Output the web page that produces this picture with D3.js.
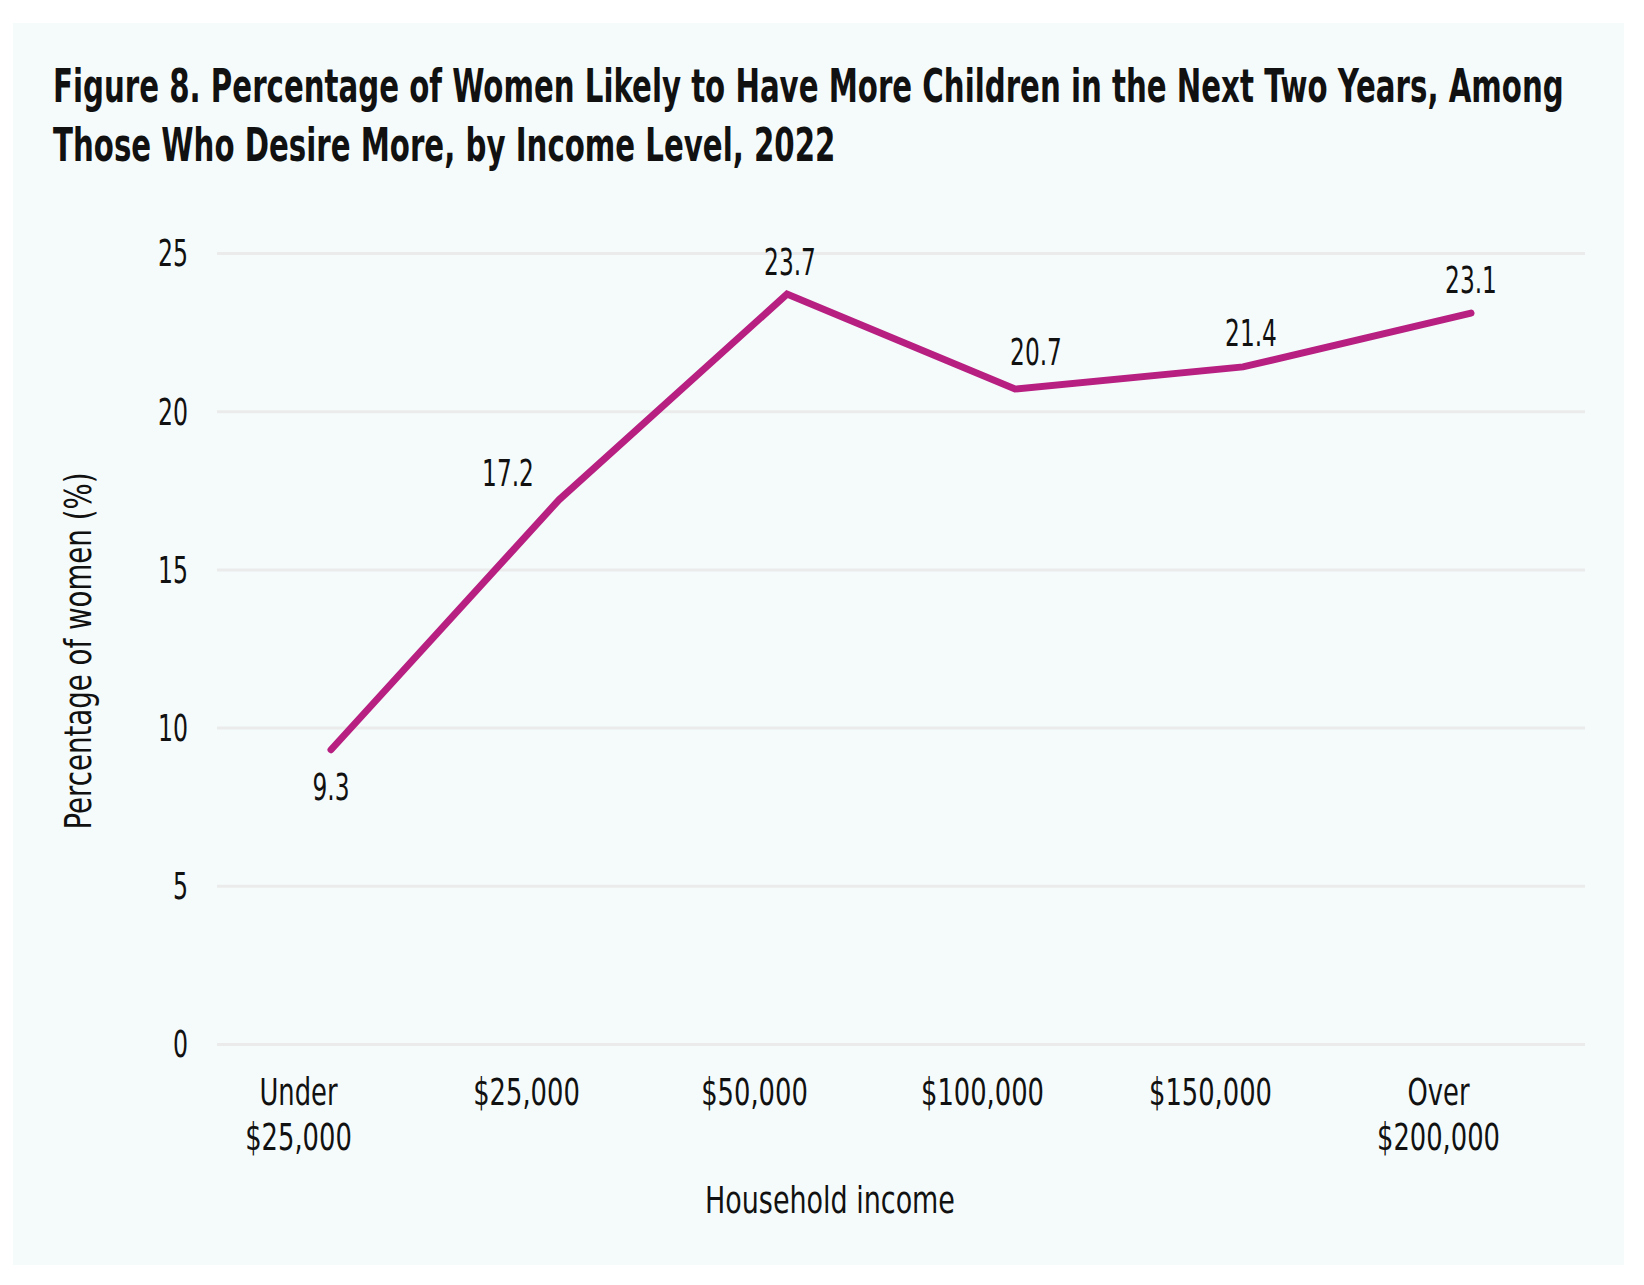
<!DOCTYPE html>
<html>
<head>
<meta charset="utf-8">
<script src="https://cdn.jsdelivr.net/npm/d3@7"></script>
<style>
  html, body { margin: 0; padding: 0; background: #ffffff; }
  svg { display: block; }
  text { font-family: "Liberation Sans Narrow", "DejaVu Sans Condensed", "Roboto Condensed", sans-serif; fill: #111111; }
</style>
</head>
<body>
<svg id="chart" width="1644" height="1285"></svg>
<script>
// ---- data ----
const categories = ["Under\n$25,000", "$25,000", "$50,000", "$100,000", "$150,000", "Over\n$200,000"];
const values = [9.3, 17.2, 23.7, 20.7, 21.4, 23.1];
const yTicks = [0, 5, 10, 15, 20, 25];
const titleLines = [
  "Figure 8. Percentage of Women Likely to Have More Children in the Next Two Years, Among",
  "Those Who Desire More, by Income Level, 2022"
];
const yAxisTitle = "Percentage of women (%)";
const xAxisTitle = "Household income";

// ---- label placement (styling, px offsets of baseline from point) ----
const labelOffsets = [[0, 50], [-51, -14], [3, -19], [21, -24], [8, -21], [0, -20]];

(function () {
const svg = d3.select("#chart");
const W = 1644, H = 1285;
svg.append("rect").attr("width", W).attr("height", H).attr("fill", "#ffffff");
svg.append("rect").attr("x", 13).attr("y", 23).attr("width", 1611).attr("height", 1242).attr("fill", "#f5fbfb");

const pLeft = 217, pRight = 1585, pTop = 253, pBottom = 1044;
const x = d3.scalePoint().domain(categories).range([pLeft, pRight]).padding(0.5);
const y = d3.scaleLinear().domain([0, 25]).range([pBottom, pTop]);
const labelShift = -33;
const xLab = d3.scalePoint().domain(categories).range([pLeft + labelShift, pRight + labelShift]).padding(0.5);

// horizontal condensing of a text around its anchor point (font is wider than the original)
function condense(sel, k, extra) {
  sel.each(function () {
    const el = d3.select(this);
    const ax = +el.attr("x") || 0, ay = +el.attr("y") || 0;
    el.attr("transform", (extra || "") + `translate(${ax},${ay}) scale(${k},1) translate(${-ax},${-ay})`);
  });
}

// title
const tg = svg.append("g");
const t1 = tg.append("text").attr("x", 53).attr("y", 102).text(titleLines[0])
  .style("font-size", "47px").style("font-weight", "bold");
const nat1 = t1.node().getComputedTextLength();
const factor = (1564 - 53) / nat1;
condense(t1, factor);
const t2 = tg.append("text").attr("x", 53).attr("y", 161).text(titleLines[1])
  .style("font-size", "47px").style("font-weight", "bold");
condense(t2, factor);

// y axis with gridlines
const yAxis = d3.axisLeft(y).tickValues(yTicks).tickSize(-(pRight - pLeft)).tickPadding(29).tickFormat(d3.format("d"));
const yg = svg.append("g").attr("transform", `translate(${pLeft},0)`).call(yAxis);
yg.select(".domain").remove();
yg.selectAll(".tick line").attr("stroke", "#ebebeb").attr("stroke-width", 3);
yg.selectAll(".tick text").style("font-size", "37px").attr("fill", "#111").attr("dy", "0.35em");
condense(yg.selectAll(".tick text"), 0.71);

// x axis labels
const xAxis = d3.axisBottom(xLab).tickSize(0).tickPadding(0);
const xg = svg.append("g").attr("transform", `translate(0,${pBottom})`).call(xAxis);
xg.select(".domain").remove();
xg.selectAll(".tick text").each(function(d) {
  const el = d3.select(this);
  el.text(null).attr("x", 0).attr("y", 0).attr("dy", null).style("font-size", "37px").attr("fill", "#111");
  d.split("\n").forEach((line, i) => {
    el.append("tspan").attr("x", 0).attr("y", 61 + i * 45).text(line);
  });
});
condense(xg.selectAll(".tick text"), 0.775);

// axis titles
const yt = svg.append("text").attr("x", 0).attr("y", 0).attr("text-anchor", "middle")
  .style("font-size", "37px").text(yAxisTitle);
condense(yt, 0.83, "translate(91,651) rotate(-90) ");
const xt = svg.append("text").attr("x", 830).attr("y", 1213).attr("text-anchor", "middle")
  .style("font-size", "37px").text(xAxisTitle);
condense(xt, 0.81);

// line
const line = d3.line().x((d, i) => x(categories[i])).y(d => y(d));
svg.append("path").datum(values).attr("d", line).attr("fill", "none")
  .attr("stroke", "#b71f80").attr("stroke-width", 7).attr("stroke-linecap", "round").attr("stroke-linejoin", "miter");

// data labels
const dl = svg.append("g").selectAll("text").data(values).join("text")
  .attr("x", (d, i) => x(categories[i]) + labelOffsets[i][0])
  .attr("y", (d, i) => y(d) + labelOffsets[i][1])
  .attr("text-anchor", "middle").style("font-size", "37px")
  .text(d => d3.format(".1f")(d));
condense(dl, 0.70);
})();
</script>
</body>
</html>
